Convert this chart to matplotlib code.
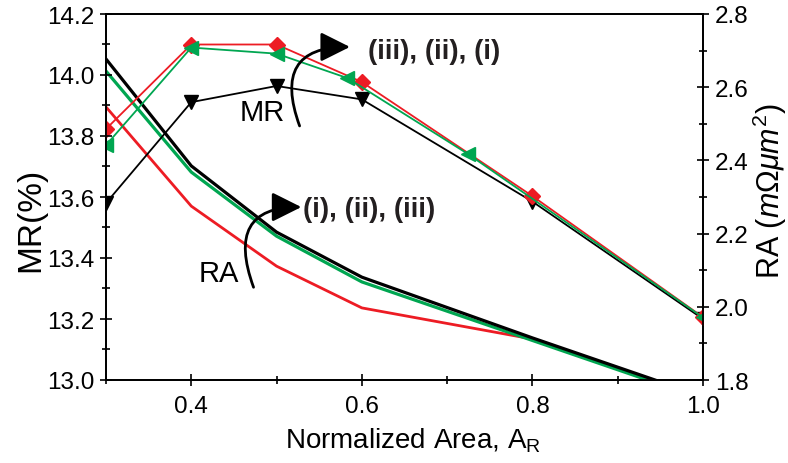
"""MR and RA versus normalized area, three samples, twin y axes."""

import matplotlib

matplotlib.use("Agg")
import matplotlib.pyplot as plt
from matplotlib.ticker import MultipleLocator

plt.rcParams["font.family"] = ["Liberation Sans", "DejaVu Sans"]
plt.rcParams["mathtext.fontset"] = "custom"
plt.rcParams["mathtext.rm"] = "Liberation Sans"
plt.rcParams["mathtext.it"] = "Liberation Sans:italic"

RED = "#ed1c24"
GREEN = "#00a651"
BLACK = "#000000"

# MR (%) - left axis, with markers
mr_x_red = [0.3, 0.4, 0.5, 0.6, 0.8, 1.0]
mr_red = [13.823, 14.10, 14.10, 13.977, 13.603, 13.206]
mr_x_green = [0.3, 0.4, 0.5, 0.583, 0.725, 1.0]
mr_green = [13.77, 14.09, 14.07, 13.99, 13.74, 13.205]
mr_x_black = [0.3, 0.4, 0.5, 0.6, 0.8, 1.0]
mr_black = [13.58, 13.911, 13.964, 13.92, 13.585, 13.20]

# RA (m-ohm um^2) - right axis, plain lines
ra_x = [0.3, 0.4, 0.5, 0.6, 0.8, 1.0]
ra_black = [2.677, 2.385, 2.204, 2.081, 1.915, 1.755]
ra_green = [2.644, 2.368, 2.193, 2.068, 1.908, 1.748]
ra_red = [2.546, 2.275, 2.111, 1.997, 1.912, 1.752]

x_ticks = [0.4, 0.6, 0.8, 1.0]
mr_ticks = [13.0, 13.2, 13.4, 13.6, 13.8, 14.0, 14.2]
ra_ticks = [1.8, 2.0, 2.2, 2.4, 2.6, 2.8]

fig = plt.figure(figsize=(7.88, 4.64), dpi=100)
ax = fig.add_axes([106 / 788, 1 - 381 / 464, 597 / 788, 366 / 464])
ax2 = ax.twinx()

ax2.plot(ra_x, ra_red, color=RED, lw=2.0, zorder=2)
ax2.plot(ra_x, ra_green, color=GREEN, lw=2.3, zorder=3)
ax2.plot(ra_x, ra_black, color=BLACK, lw=2.3, zorder=4)

ax2.plot(mr_x_black, mr_black, color=BLACK, lw=1.3, marker="v", ms=10,
         transform=ax.transData, zorder=5)
ax2.plot(mr_x_red, mr_red, color=RED, lw=1.3, marker="D", ms=8.5,
         transform=ax.transData, zorder=6)
ax2.plot(mr_x_green, mr_green, color=GREEN, lw=1.3, marker="<", ms=10,
         transform=ax.transData, zorder=7)

ax.set_xlim(0.3, 1.0)
ax.set_ylim(13.0, 14.2)
ax2.set_ylim(1.8, 2.8)
ax.set_xticks(x_ticks)
ax.set_yticks(mr_ticks)
ax2.set_yticks(ra_ticks)
ax.xaxis.set_minor_locator(MultipleLocator(0.1))
ax.yaxis.set_minor_locator(MultipleLocator(0.1))
ax2.yaxis.set_minor_locator(MultipleLocator(0.1))

for a in (ax, ax2):
    for s in a.spines.values():
        s.set_linewidth(1.3)
ax.tick_params(which="both", direction="inout", width=1.2, labelsize=17.5,
               top=False)
ax.tick_params(which="major", length=9)
ax.tick_params(which="minor", length=6)
ax.tick_params(axis="x", pad=6)
ax.tick_params(axis="y", pad=4)
ax2.tick_params(which="both", direction="inout", width=1.2, labelsize=17.5,
                pad=4)
ax2.tick_params(which="major", length=9)
ax2.tick_params(which="minor", length=6)

ax.set_xlabel(r"Normalized Area, A$_\mathrm{R}$", fontsize=20)
ax.set_ylabel("MR(%)", fontsize=24)
ax2.set_ylabel(r"RA ($m\Omega\mu m^2$)", fontsize=22)
ax.xaxis.set_label_coords(0.515, -0.125)
ax.yaxis.set_label_coords(-0.1, 0.44)
ax2.yaxis.set_label_coords(1.08, 0.52)

# annotations
ax2.text(0.483, 13.879, "MR", fontsize=21, ha="center", va="center",
         transform=ax.transData, zorder=10)
ax2.text(0.432, 13.351, "RA", fontsize=21, ha="center", va="center",
         transform=ax.transData, zorder=10)
ax2.text(0.607, 14.079, "(iii), (ii), (i)", fontsize=20, fontweight="bold",
         color="#231f20", ha="left", va="center", transform=ax.transData,
         zorder=10)
ax2.text(0.531, 13.561, "(i), (ii), (iii)", fontsize=20, fontweight="bold",
         color="#231f20", ha="left", va="center", transform=ax.transData,
         zorder=10)

arrow_props = dict(arrowstyle="-|>,head_length=0.9,head_width=0.45",
                   connectionstyle="angle3,angleA=110,angleB=0", lw=2,
                   color="k", shrinkA=0, shrinkB=0, mutation_scale=20)
ax.annotate("", xy=(0.586, 14.092), xytext=(0.527, 13.833),
            arrowprops=arrow_props, zorder=10, annotation_clip=False)
ax.annotate("", xy=(0.529, 13.567), xytext=(0.473, 13.304),
            arrowprops=arrow_props, zorder=10, annotation_clip=False)
ax.set_zorder(ax2.get_zorder() + 1)
ax.patch.set_visible(False)

fig.savefig("out.png", dpi=100)
